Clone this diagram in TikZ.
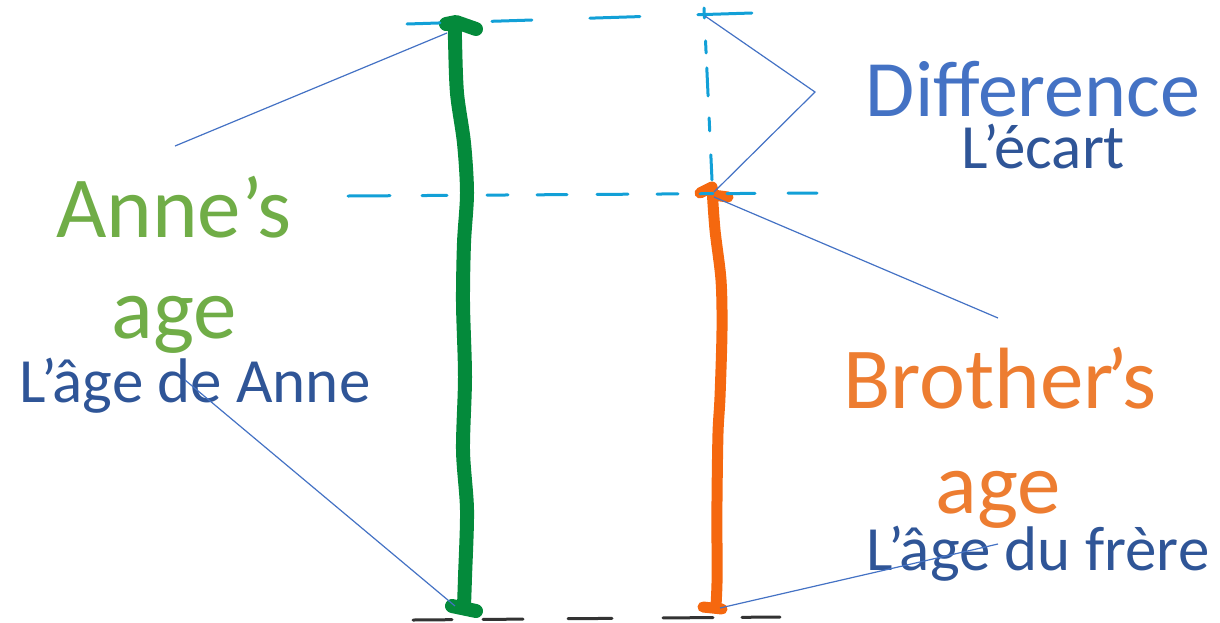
\documentclass[tikz,border=0pt]{standalone}
\usepackage{fontspec}
\setmainfont{Carlito}
\usetikzlibrary{positioning}

\definecolor{annegreen}{HTML}{70AD47}
\definecolor{brotherorange}{HTML}{ED7D31}
\definecolor{diffblue}{HTML}{4472C4}
\definecolor{frenchblue}{HTML}{2F5597}
\definecolor{pengreen}{HTML}{048A3B}
\definecolor{penorange}{HTML}{F5680F}
\definecolor{guidecyan}{HTML}{12A0D7}
\definecolor{floorgray}{HTML}{333333}

\begin{document}
\begin{tikzpicture}[x=0.5pt, y=-0.5pt,
        pen/.style={line width=7pt, line cap=round, line join=round},
        guide/.style={draw=guidecyan, line width=1.5pt, line cap=round},
        leader/.style={draw=diffblue, line width=0.6pt},
        title/.style={font=\fontsize{43.5}{50}\selectfont, anchor=base, inner sep=0pt},
        french/.style={text=frenchblue, font=\fontsize{31.5}{36}\selectfont, anchor=base, inner sep=0pt}]

    \useasboundingbox (0,0) rectangle (1220,622);

    % labels
    \node[title, text=annegreen] (anne) at (174,237) {Anne’s};
    \node[title, text=annegreen] (anneage) at (174,338) {age};
    \node[french] (annefr) at (195,402) {L’âge de Anne};
    \node[title, text=diffblue, font=\fontsize{40}{48}\selectfont] (diff) at (1033,116) {Difference};
    \node[french] (difffr) at (1043,168) {L’écart};
    \node[title, text=brotherorange] (brother) at (1000,408) {Brother\kern-0.09em’s};
    \node[title, text=brotherorange] (brotherage) at (998,513) {age};
    \node[french] (brotherfr) at (1038,570) {L’âge du frère};

    % ends of the two bars
    \coordinate (gtop) at (447,33);
    \coordinate (gbot) at (455,606);
    \coordinate (otop) at (714,192);
    \coordinate (obot) at (720,608);

    % Anne's bar
    \draw[pen, pengreen] plot[smooth] coordinates {(455,28) (455,40) (457,93) (464,143) (467,193) (464,243) (463,303) (465,377) (463,450) (467,510) (465,577) (464,606)};
    \draw[pen, pengreen] (446,24) -- (456,22) -- (476,29);
    \draw[pen, pengreen] (452,606) -- (476,611);

    % brother's bar
    \draw[pen, line width=5.5pt, penorange] plot[smooth] coordinates {(712,188) (715,230) (721,280) (722,330) (720,397) (718,433) (717,500) (717,550) (717,583) (716,606)};
    \draw[pen, line width=5.5pt, penorange] (700,193) -- (712,187) -- (713,195) -- (728,197);
    \draw[pen, line width=5.5pt, penorange] (703,607) -- (722,609);

    % guides
    \draw[guide, dash pattern=on 16.5pt off 26pt on 20pt off 29pt on 25pt off 29pt on 27pt off 10pt] (407,24) -- (752,13);
    \draw[guide, dash pattern=on 5pt off 11.5pt on 6pt off 7.5pt on 14pt off 11pt on 6.5pt off 12pt on 12.5pt off 5pt] (704,8) -- (712,180);
    \draw[guide, dash pattern=on 21pt off 16pt on 12.5pt off 20pt on 10.5pt off 14.5pt on 15pt off 15pt on 15.5pt off 14.5pt on 10.5pt off 11pt on 6.5pt off 7pt on 14pt off 16.5pt on 14.5pt off 5pt] (348,196) -- (817,193);
    \draw[floorgray, line width=1.5pt, line cap=round, dash pattern=on 19.5pt off 15.5pt on 20pt off 22.5pt on 22pt off 25.5pt on 25pt off 14.5pt on 19pt off 5pt] (413,620) -- (780,617);

    % leader lines
    \coordinate (annetip) at (175,146);
    \coordinate (annefrtip) at (185,380);
    \coordinate (diffapex) at (815,92);
    \coordinate (brothertip) at (998,318);
    \coordinate (brotherfrtip) at (998,544);
    \draw[leader] (annetip) -- (gtop);
    \draw[leader] (705,16) -- (diffapex) -- (otop);
    \draw[leader] (brothertip) -- (714,197);
    \draw[leader] (annefrtip) -- (gbot);
    \draw[leader] (brotherfrtip) -- (obot);
\end{tikzpicture}
\end{document}
